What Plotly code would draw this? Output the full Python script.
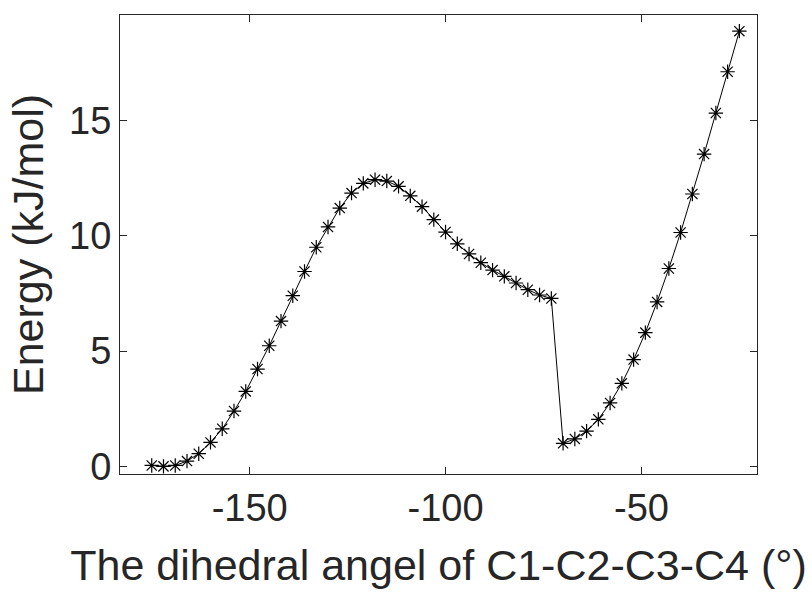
import plotly.graph_objects as go

# Torsion scan of C1-C2-C3-C4 (degrees) and relative energy (kJ/mol)
angle = [-175, -172, -169, -166, -163, -160, -157, -154, -151, -148, -145, -142,
         -139, -136, -133, -130, -127, -124, -121, -118, -115, -112, -109, -106,
         -103, -100, -97, -94, -91, -88, -85, -82, -79, -76, -73,
         -70, -67, -64, -61, -58, -55, -52, -49, -46, -43, -40, -37, -34, -31,
         -28, -25]
energy = [0.04, 0.00, 0.04, 0.23, 0.55, 1.04, 1.63, 2.40, 3.25, 4.22, 5.23, 6.30,
          7.40, 8.45, 9.50, 10.38, 11.20, 11.85, 12.27, 12.43, 12.37, 12.14, 11.73, 11.26,
          10.70, 10.16, 9.65, 9.21, 8.83, 8.51, 8.24, 7.95, 7.66, 7.43, 7.28,
          1.00, 1.19, 1.53, 2.04, 2.75, 3.60, 4.63, 5.80, 7.13, 8.58, 10.14, 11.81, 13.54, 15.32,
          17.11, 18.87]

x_ticks = [-150, -100, -50]
y_ticks = [0, 5, 10, 15]

FONT = "Liberation Sans, Arial, Helvetica, sans-serif"
INK = "#262626"
TICK_SIZE = 38
LABEL_SIZE = 43

fig = go.Figure(
    go.Scatter(
        x=angle, y=energy, mode="lines+markers",
        line=dict(color="black", width=1),
        marker=dict(symbol="asterisk-open", size=12, color="black",
                    line=dict(color="black", width=1.2)),
        showlegend=False,
    )
)

axis_common = dict(
    showgrid=False, zeroline=False, showline=True, mirror="ticks",
    linecolor=INK, linewidth=1, ticks="inside", ticklen=7, tickcolor=INK,
    tickfont=dict(family=FONT, size=TICK_SIZE, color=INK),
)

fig.update_xaxes(
    range=[-183.1, -20.5], tickvals=x_ticks, ticktext=[str(v) for v in x_ticks],
    title=dict(text="The dihedral angel of C1-C2-C3-C4 (°)",
               font=dict(family=FONT, size=LABEL_SIZE, color=INK), standoff=22),
    **axis_common,
)
fig.update_yaxes(
    range=[-0.33, 19.57], tickvals=y_ticks, ticktext=[str(v) for v in y_ticks],
    title=dict(text="Energy (kJ/mol)",
               font=dict(family=FONT, size=LABEL_SIZE, color=INK), standoff=12),
    **axis_common,
)

fig.update_layout(
    width=812, height=594,
    margin=dict(l=120, r=55, t=15, b=120, autoexpand=False),
    plot_bgcolor="white", paper_bgcolor="white",
)

fig.write_html("out.html")
